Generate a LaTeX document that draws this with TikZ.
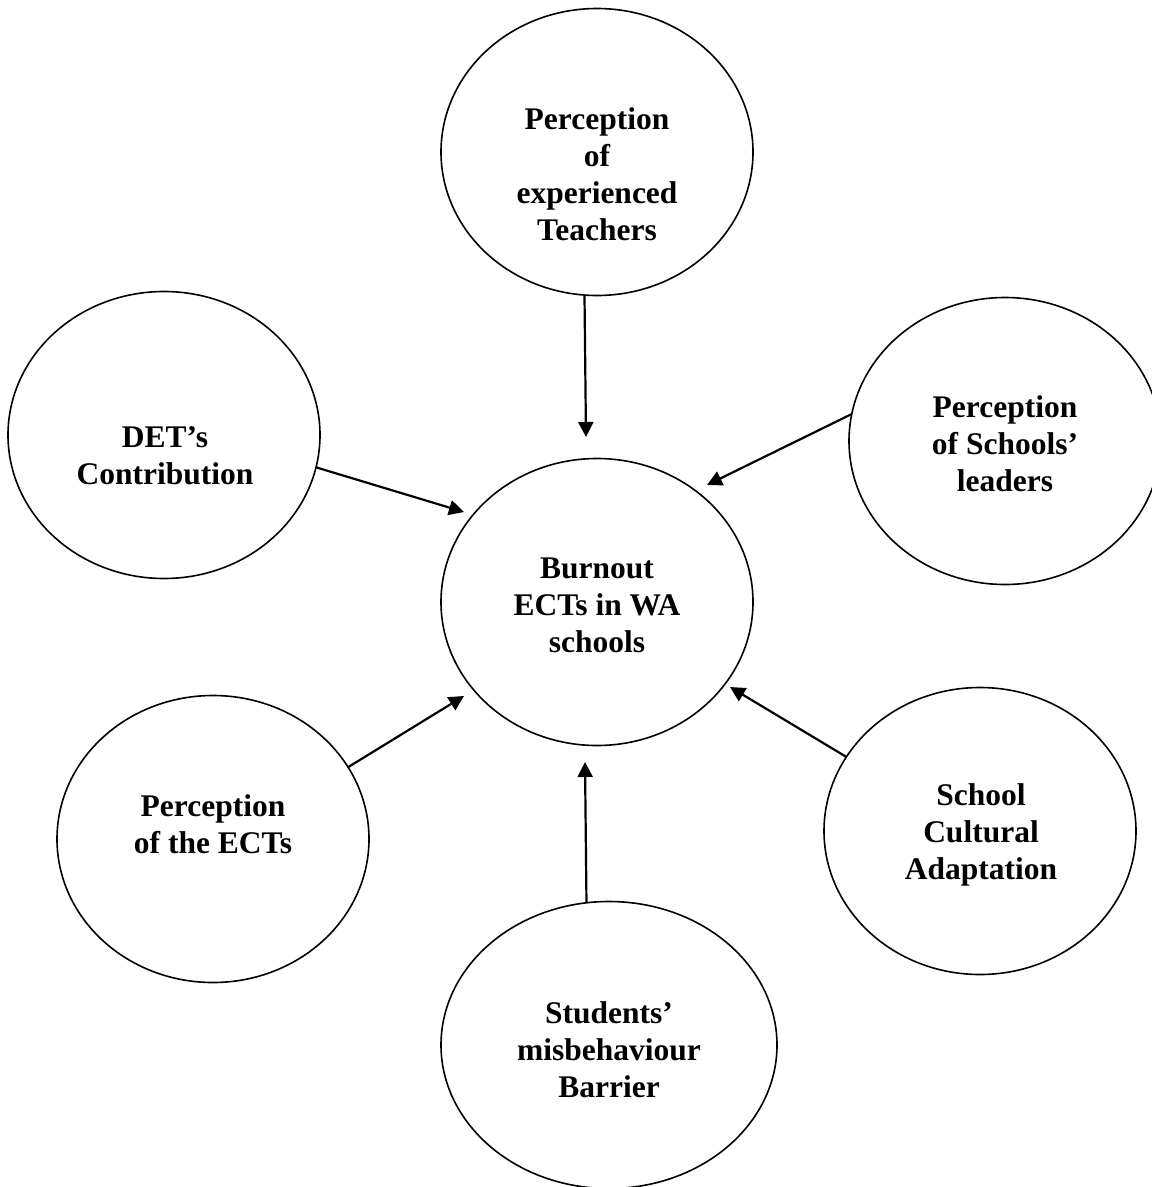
\documentclass[tikz,border=0pt]{standalone}
\usepackage{fontspec}
\setmainfont{Liberation Serif}
\usetikzlibrary{shapes.geometric,arrows.meta}
\begin{document}
\begin{tikzpicture}[x=1pt,y=-1pt,
  bubble/.style={draw,ellipse,line width=1.6pt,inner sep=0pt,outer sep=0pt,minimum width=312pt,minimum height=287pt},
  lbl/.style={align=center,font=\fontsize{31.5}{37}\selectfont\bfseries,inner sep=0pt},
  arr/.style={line width=2.2pt,-{Triangle[length=15pt,width=15pt]}}]
\useasboundingbox[fill=white] (0,0) rectangle (1152,1187);
% ellipses
\node[bubble] (top) at (597,152) {};
\node[bubble] (det) at (164,435) {};
\node[bubble] (lead) at (1005,441) {};
\node[bubble] (mid) at (597,602) {};
\node[bubble] (ects) at (213,839) {};
\node[bubble] (cult) at (980,831) {};
\node[bubble,minimum width=336pt] (stud) at (609,1045) {};
% texts
\node[lbl] (ttop) at (597,174) {Perception\\of\\experienced\\Teachers};
\node[lbl] (tdet) at (165,456) {DET’s\\Contribution};
\node[lbl] (tlead) at (1005,444) {Perception\\of Schools’\\leaders};
\node[lbl] (tmid) at (597,605) {Burnout\\ECTs in WA\\schools};
\node[lbl] (tects) at (213,824) {Perception\\of the ECTs};
\node[lbl] (tcult) at (981,835) {School\\Cultural\\Adaptation};
\node[lbl] (tstud) at (609,1050) {Students’\\misbehaviour\\Barrier};
% arrow tips
\coordinate (p1) at (586,437);
\coordinate (p2) at (464,512);
\coordinate (p3) at (707,485);
\coordinate (p4) at (464,696);
\coordinate (p5) at (730,687);
\coordinate (p6) at (585,762);
% connectors
\draw[arr] (top.265.6) -- (p1);
\draw[arr] (det.348.8) -- (p2);
\draw[arr] (lead.170.5) -- (p3);
\draw[arr] (ects.28.8) -- (p4);
\draw[arr] (cult.151) -- (p5);
\draw[arr] (stud.99.5) -- (p6);
\end{tikzpicture}
\end{document}
